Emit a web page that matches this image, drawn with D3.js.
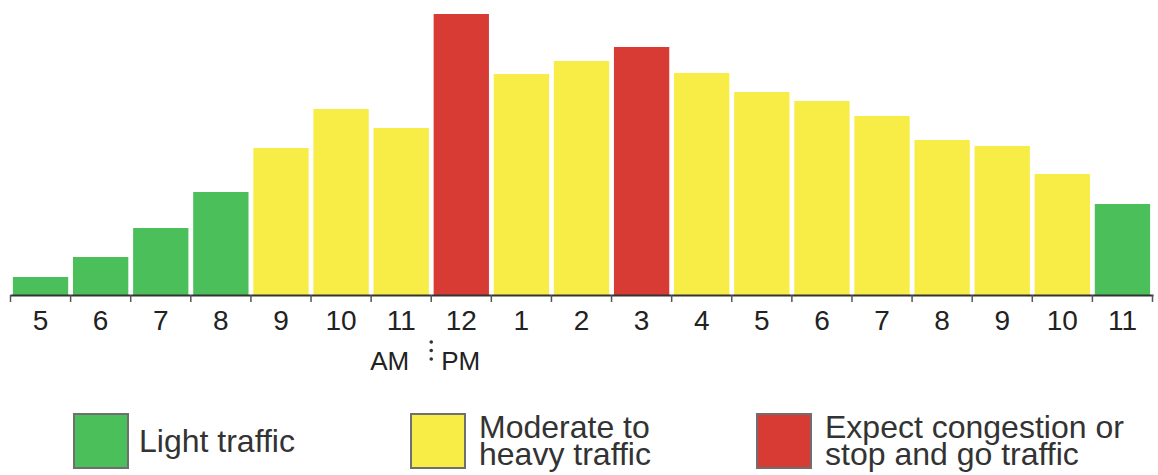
<!DOCTYPE html>
<html>
<head>
<meta charset="utf-8">
<script src="https://cdn.jsdelivr.net/npm/d3@7"></script>
<style>
  html, body { margin: 0; padding: 0; background: #fff; }
  svg { display: block; font-family: "Liberation Sans", Arial, Helvetica, sans-serif; }
</style>
</head>
<body>
<svg id="chart" width="1158" height="475"></svg>
<script>
// ---- data ----
const hourLabels = ["5","6","7","8","9","10","11","12","1","2","3","4","5","6","7","8","9","10","11"];
const trafficValues = [18, 38, 67, 103, 147, 186, 167, 281, 221, 234, 248, 222, 203, 194, 179, 155, 149, 121, 91];
const trafficLevels = ["light","light","light","light","moderate","moderate","moderate","heavy","moderate","moderate","heavy","moderate","moderate","moderate","moderate","moderate","moderate","moderate","light"];
const legendKeys = ["light", "moderate", "heavy"];
const legendLabels = [["Light traffic"], ["Moderate to", "heavy traffic"], ["Expect congestion or", "stop and go traffic"]];
const periodLabels = ["AM", "PM"];

const colors = { light: "#4bbf5a", moderate: "#f8ec46", heavy: "#d83a34" };

const svg = d3.select("#chart");
const baseY = 295;

const x = d3.scaleBand()
  .domain(d3.range(hourLabels.length))
  .range([10.5, 1152.5])
  .paddingInner(0.08)
  .paddingOuter(0.04);

const y = d3.scaleLinear().domain([0, 281]).range([baseY, 14]);

// bars
svg.append("g").selectAll("rect")
  .data(trafficValues)
  .join("rect")
  .attr("x", (d, i) => x(i))
  .attr("y", d => y(d))
  .attr("width", x.bandwidth())
  .attr("height", d => baseY - y(d))
  .attr("fill", (d, i) => colors[trafficLevels[i]]);

// axis line
const x0 = x.range()[0], x1 = x.range()[1];
svg.append("line")
  .attr("x1", x0).attr("x2", x1 + 1)
  .attr("y1", baseY + 0.5).attr("y2", baseY + 0.5)
  .attr("stroke", "#333").attr("stroke-width", 2);

// ticks at band boundaries
const boundaries = d3.range(hourLabels.length + 1).map(i => x0 + i * x.step());
svg.append("g").selectAll("line")
  .data(boundaries)
  .join("line")
  .attr("x1", d => d).attr("x2", d => d)
  .attr("y1", baseY).attr("y2", baseY + 7)
  .attr("stroke", "#555").attr("stroke-width", 1.5);

// tick labels
svg.append("g").selectAll("text")
  .data(hourLabels)
  .join("text")
  .attr("x", (d, i) => x(i) + x.bandwidth() / 2)
  .attr("y", 330)
  .attr("text-anchor", "middle")
  .attr("font-size", 28)
  .attr("fill", "#222")
  .text(d => d);

// AM / PM
const sepX = boundaries[7];
svg.append("text").attr("x", sepX - 22).attr("y", 370).attr("text-anchor", "end")
  .attr("font-size", 26).attr("fill", "#222").text(periodLabels[0]);
svg.append("text").attr("x", sepX + 10).attr("y", 370).attr("text-anchor", "start")
  .attr("font-size", 26).attr("fill", "#222").text(periodLabels[1]);
svg.append("g").selectAll("circle")
  .data([342, 350.5, 359])
  .join("circle")
  .attr("cx", sepX).attr("cy", d => d).attr("r", 1.8).attr("fill", "#333");

// legend
const legendX = [74, 411, 757];
const lg = svg.append("g").selectAll("g")
  .data(legendKeys)
  .join("g")
  .attr("transform", (d, i) => `translate(${legendX[i]},414)`);
lg.append("rect")
  .attr("width", 54).attr("height", 54)
  .attr("fill", d => colors[d])
  .attr("stroke", "#6f6f6f").attr("stroke-width", 2);
lg.each(function(d, i) {
  const lines = legendLabels[i];
  const t = d3.select(this).append("text")
    .attr("font-size", 32).attr("fill", "#333");
  if (lines.length === 1) {
    t.append("tspan").attr("x", 65).attr("y", 38).text(lines[0]);
  } else {
    lines.forEach((s, j) => t.append("tspan").attr("x", 68).attr("y", 24 + j * 27).text(s));
  }
});
</script>
</body>
</html>
